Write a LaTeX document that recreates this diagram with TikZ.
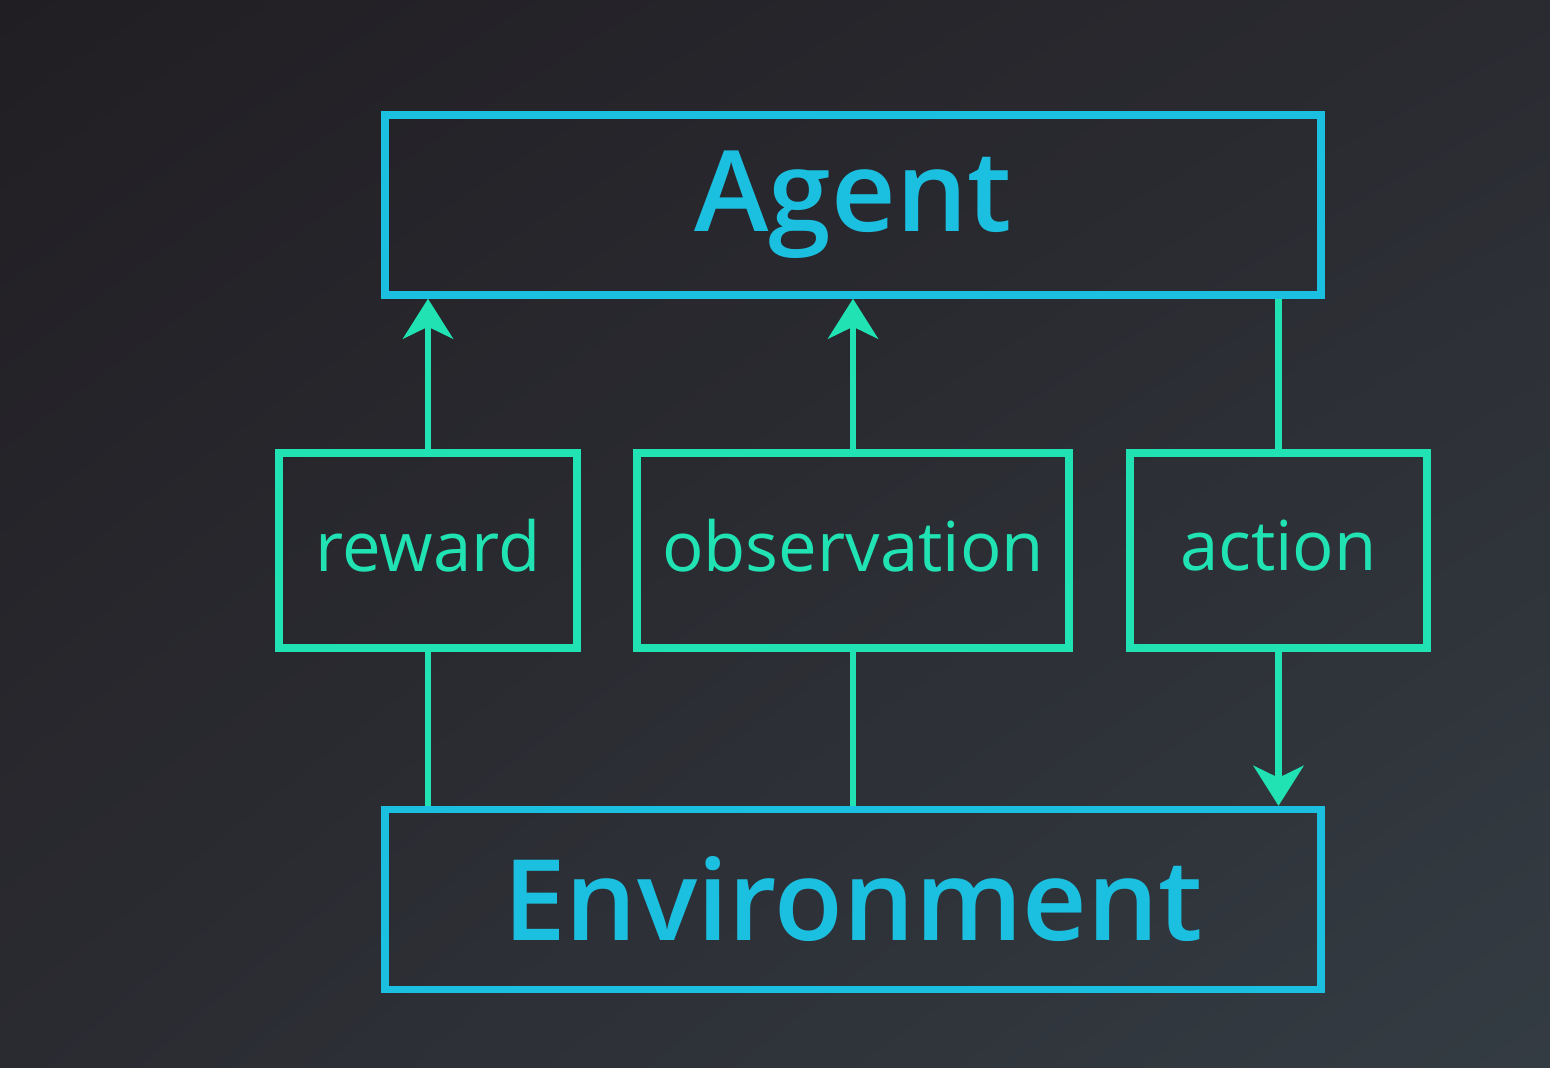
\documentclass[tikz,border=0pt]{standalone}
\usepackage{fontspec}
\setmainfont{Open Sans}
\newfontfamily\headfont{Open Sans Semibold}
\usepackage{xcolor}
\usetikzlibrary{arrows.meta,positioning,shadings}

\definecolor{bgdark}{HTML}{211E23}
\definecolor{bgmid}{HTML}{2A2B31}
\definecolor{bglight}{HTML}{343C43}
\definecolor{agentblue}{HTML}{1BC0E0}
\definecolor{signalgreen}{HTML}{20E2B2}

\begin{document}
\begin{tikzpicture}
        \tikzstyle{every node}+=[inner sep=0pt]
        \tikzstyle{bigbox}=[draw=agentblue, line width=2.1pt, minimum width=9.36cm, minimum height=1.8cm, text=agentblue, font=\fontsize{32}{36}\headfont]
        \tikzstyle{smallbox}=[draw=signalgreen, line width=2.1pt, minimum height=1.95cm, text depth=0.1cm, text=signalgreen, font=\fontsize{19.6}{24}\selectfont]
        \tikzstyle{link}=[draw=signalgreen, line width=1.9pt]
        \tikzstyle{linkarrow}=[link, -{Stealth[length=0.4cm, width=0.5cm, inset=0.12cm]}]
        \useasboundingbox (0,0) rectangle (15.5,-10.68);
        \shade [upper left=bgdark, upper right=bgmid, lower left=bgmid, lower right=bglight] (0,0) rectangle (15.5,-10.68);
        \node [bigbox] (agent) at (8.53,-2.05) {Agent};
        \node [smallbox, minimum width=2.98cm] (reward) at (4.28,-5.505) {reward};
        \node [smallbox, minimum width=4.32cm] (observation) at (8.53,-5.505) {observation};
        \node [smallbox, minimum width=2.97cm] (action) at (12.785,-5.505) {action};
        \node [bigbox] (environment) at (8.53,-8.995) {Environment};
        \draw [link] (environment.north -| reward.south) -- (reward.south);
        \draw [linkarrow] (reward.north) -- (reward.north |- agent.south);
        \draw [link] (environment.north -| observation.south) -- (observation.south);
        \draw [linkarrow] (observation.north) -- (observation.north |- agent.south);
        \draw [link] (agent.south -| action.north) -- (action.north);
        \draw [linkarrow] (action.south) -- (action.south |- environment.north);
\end{tikzpicture}
\end{document}
